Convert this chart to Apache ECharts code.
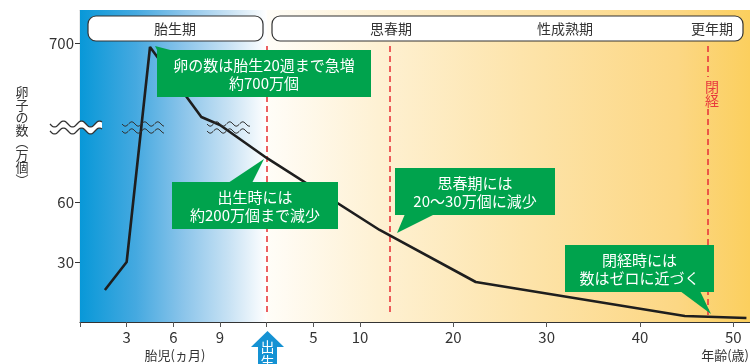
<!DOCTYPE html>
<html><head><meta charset="utf-8">
<script src="https://cdn.jsdelivr.net/npm/echarts@6/dist/echarts.min.js"></script>
<style>html,body{margin:0;padding:0;background:#fff}#c{width:750px;height:364px}</style>
</head><body><div id="c"></div>
<script>
const FONT = '"Noto Sans CJK JP", "Noto Sans", sans-serif';
// fetal period: x = months of gestation
const fetalMonths = [1.6, 3.0, 4.5, 7.8, 9.0];
const fetalCounts = [16, 30, 698, 663, 659]; // 万個
// after birth: age in years
const ages = [0, 12.1, 22.4, 44.8, 51.4];
const ageCounts = [82, 46, 20, 3, 2]; // 万個
const fetalTicks = [3, 6, 9];
const ageTicks = [5, 10, 20, 30, 40, 50];
const yTicks = [30, 60, 700];
const eventAges = [0, 13.2, 47.3]; // 出生, 思春期, 閉経
const BIRTH_X = 12, AGE_UNIT = 0.6, X_MAX = 43.07;
const ageToX = a => BIRTH_X + a * AGE_UNIT;

const seriesData = fetalMonths.map((m, i) => [m, fetalCounts[i]])
  .concat(ages.map((a, i) => [ageToX(a), ageCounts[i]]));
const xLabelVals = fetalTicks.concat(ageTicks.map(ageToX));
const xTickVals = [0].concat(fetalTicks, [BIRTH_X], ageTicks.map(ageToX));

const GREEN = '#00a34d', RED = '#e8383d';
const blueGrad = {type:'linear', x:0, y:0, x2:1, y2:0, colorStops:[
  {offset:0, color:'#0898d8'}, {offset:0.3, color:'#45a9e0'}, {offset:0.55, color:'#8ac4ea'},
  {offset:0.8, color:'#c8e2f4'}, {offset:1, color:'#ffffff'}]};
const yellowGrad = {type:'linear', x:0, y:0, x2:1, y2:0, colorStops:[
  {offset:0, color:'#fffdf8'}, {offset:0.25, color:'#fef0d0'}, {offset:0.55, color:'#fde3a8'},
  {offset:0.85, color:'#fcd784'}, {offset:1, color:'#fbcf5e'}]};

function wave(x0, x1, yc, A, P) {
  const pts = [];
  for (let x = x0; x <= x1; x += 1) pts.push([x, yc + A * Math.sin(2 * Math.PI * (x - x0) / P)]);
  return pts;
}
function waveGroup(x0, x1, y1, y2, A, P, fill, lw) {
  const top = wave(x0, x1, y1, A, P), bot = wave(x0, x1, y2, A, P);
  const els = [];
  if (fill) els.push({type:'polygon', z:100, shape:{points: top.concat(bot.slice().reverse())}, style:{fill:'#fff'}});
  els.push({type:'polyline', z:101, shape:{points: top}, style:{stroke:'#333', lineWidth: lw, fill:null}});
  els.push({type:'polyline', z:101, shape:{points: bot}, style:{stroke:'#333', lineWidth: lw, fill:null}});
  return els;
}
function txt(x, y, text, size, color, align, extra) {
  return Object.assign({type:'text', z:110, x, y, style:{text, fill: color, font: size + 'px ' + FONT,
    fontSize: size, fontFamily: FONT, align: align || 'center', textAlign: align || 'center',
    verticalAlign:'middle', textVerticalAlign:'middle'}}, extra || {});
}
function callout(x, y, w, h, lines, pointer) {
  return [
    {type:'polygon', z:105, shape:{points: pointer}, style:{fill: GREEN}},
    {type:'rect', z:105, shape:{x, y, width:w, height:h}, style:{fill: GREEN}},
    txt(x + w / 2, y + h / 2 + 0.5, lines.join('\n'), 15, '#fff', 'center', {style:{text: lines.join('\n'), fill:'#fff',
      font:'15px ' + FONT, align:'center', textAlign:'center', verticalAlign:'middle', textVerticalAlign:'middle', lineHeight:18}})
  ];
}

const graphics = [].concat(
  [{type:'rect', z:104, shape:{x:88, y:16, width:175, height:25, r:8}, style:{fill:'#fff', stroke:'#333', lineWidth:1.2}},
   {type:'rect', z:104, shape:{x:272, y:16, width:471, height:25, r:8}, style:{fill:'#fff', stroke:'#333', lineWidth:1.2}},
   txt(175, 28.5, '胎生期', 14, '#333'), txt(391, 28.5, '思春期', 14, '#333'),
   txt(565, 28.5, '性成熟期', 14, '#333'), txt(712, 28.5, '更年期', 14, '#333'),
   txt(712, 94, '閉\n経', 14, RED, 'center', {style:{text:'閉\n経', fill:RED, font:'14px ' + FONT, align:'center',
     textAlign:'center', verticalAlign:'middle', textVerticalAlign:'middle', lineHeight:14}}),
   txt(22, 136, '卵\n子\nの\n数\n︵\n万\n個\n︶', 13, '#333', 'center', {style:{text:'卵\n子\nの\n数\n︵\n万\n個\n︶',
     fill:'#333', font:'13px ' + FONT, align:'center', textAlign:'center', verticalAlign:'middle', textVerticalAlign:'middle', lineHeight:12.5}}),
   txt(175, 355, '胎児(ヵ月)', 13, '#333'),
   txt(749, 355, '年齢(歳)', 13, '#333', 'right'),
   {type:'polygon', z:110, shape:{points:[[267.5,331],[284,347],[277,347],[277,364],[258,364],[258,347],[251,347]]}, style:{fill:'#1592d3'}},
   txt(267.5, 347, '出', 14, '#fff'), txt(267.5, 362, '生', 14, '#fff')
  ],
  waveGroup(50, 102, 124, 131, 3, 18, true, 1.3),
  waveGroup(122, 164, 124, 131, 2.2, 13, false, 1),
  waveGroup(207, 250, 124, 131, 2.2, 13, false, 1),
  callout(157, 50, 214, 47, ['卵の数は胎生20週まで急増', '約700万個'], [[158,52],[178,52],[155,46]]),
  callout(172, 182, 166, 47, ['出生時には', '約200万個まで減少'], [[228,183],[252,183],[264,159]]),
  callout(395, 168, 160, 47, ['思春期には', '20〜30万個に減少'], [[405,214],[435,214],[397,233]]),
  callout(565, 245, 149, 47, ['閉経時には', '数はゼロに近づく'], [[680,291],[700,291],[711,314]])
);

const chart = echarts.init(document.getElementById('c'), null, {renderer:'canvas'});
chart.setOption({
  animation: false,
  backgroundColor: '#fff',
  textStyle: {fontFamily: FONT},
  grid: {left: 80, right: 0, top: 10, bottom: 42, containLabel: false},
  xAxis: {
    type: 'value', min: 0, max: X_MAX,
    axisLine: {show: true, lineStyle: {color: '#333', width: 1.2}},
    axisTick: {show: true, length: 5, customValues: xTickVals, lineStyle: {color: '#555'}},
    axisLabel: {customValues: xLabelVals, color: '#333', fontSize: 15, margin: 8, fontFamily: FONT,
      formatter: v => v <= BIRTH_X ? String(Math.round(v)) : String(Math.round((v - BIRTH_X) / AGE_UNIT))},
    splitLine: {show: false}
  },
  yAxis: {
    type: 'value', min: 0, max: 716.5,
    breaks: [{start: 97, end: 658, gap: '0.3%'}],
    breakArea: {show: false},
    axisLine: {show: true, lineStyle: {color: '#333', width: 1.2}},
    axisTick: {show: true, length: 5, customValues: yTicks, lineStyle: {color: '#333'}},
    axisLabel: {customValues: yTicks, color: '#333', fontSize: 15, margin: 6, fontFamily: FONT},
    splitLine: {show: false}
  },
  series: [{
    type: 'line', data: seriesData, showSymbol: false, z: 5,
    lineStyle: {color: '#1e1e1e', width: 2.6}, itemStyle: {color: '#1e1e1e'},
    markArea: {silent: true, z: 1, data: [
      [{xAxis: 0, itemStyle: {color: blueGrad}}, {xAxis: BIRTH_X}],
      [{xAxis: BIRTH_X, itemStyle: {color: yellowGrad}}, {xAxis: X_MAX}]
    ]},
    markLine: {silent: true, symbol: ['none', 'none'], label: {show: false},
      lineStyle: {color: RED, type: [6, 4], width: 1.6},
      data: [
        [{coord: [ageToX(eventAges[0]), 698.5]}, {coord: [ageToX(eventAges[0]), 3]}],
        [{coord: [ageToX(eventAges[1]), 698.5]}, {coord: [ageToX(eventAges[1]), 3]}],
        [{coord: [ageToX(eventAges[2]), 698.5]}, {coord: [ageToX(eventAges[2]), 683]}],
        [{coord: [ageToX(eventAges[2]), 667]}, {coord: [ageToX(eventAges[2]), 3]}]
      ]}
  }],
  graphic: graphics
});
</script></body></html>
